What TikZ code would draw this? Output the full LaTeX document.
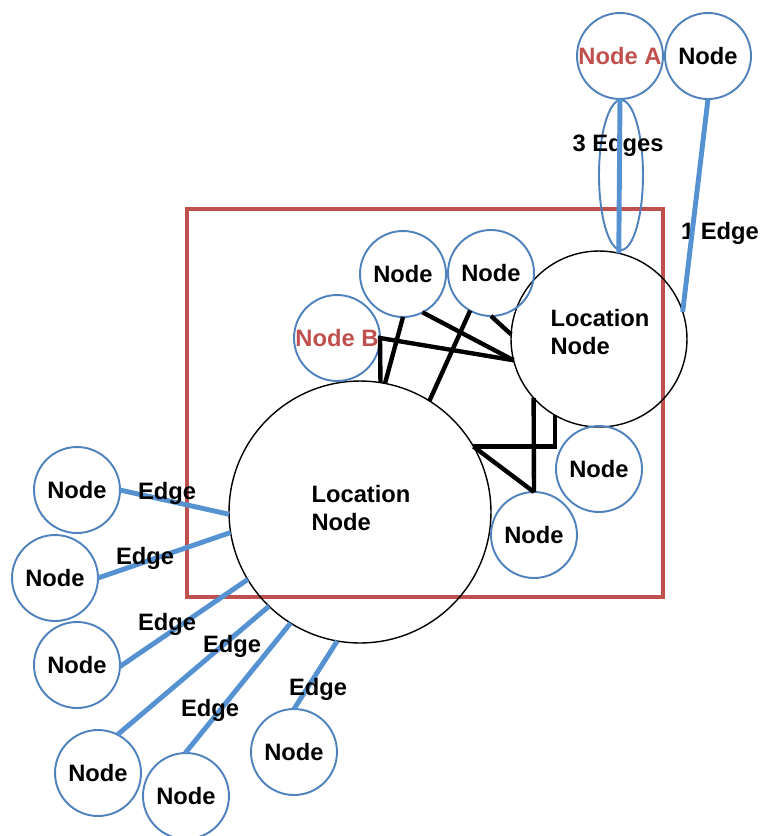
\documentclass[tikz,border=0pt]{standalone}
\usepackage{fontspec}
\setmainfont{Liberation Sans}
\usetikzlibrary{shapes.geometric}
\definecolor{nodeblue}{RGB}{79,129,189}
\definecolor{edgeblue}{RGB}{86,146,210}
\definecolor{boxred}{RGB}{192,80,77}

\begin{document}
\begin{tikzpicture}[x=0.02cm, y=-0.02cm,
  font=\fontsize{13.5}{16}\selectfont\bfseries,
  small/.style={circle, draw=nodeblue, line width=1.1pt, minimum size=1.72cm, inner sep=0pt, outer sep=0pt},
  locnode/.style={circle, draw=black, line width=0.8pt, inner sep=0pt, outer sep=0pt},
  blueedge/.style={draw=edgeblue, line width=2.8pt},
  blackedge/.style={draw=black, line width=2.5pt}]
\useasboundingbox (0,0) rectangle (760,836);

% group box
\draw[boxred, line width=2.3pt] (187,209) rectangle (663,597);

% location nodes
\node[locnode, minimum size=5.24cm] (loc1) at (360,512) {};
\node[locnode, minimum size=3.52cm] (loc2) at (599,339) {};
\node[align=left] (t1) at (361,508) {Location\\Node};
\node[align=left] (t2) at (600,332) {Location\\Node};

% top
\node[small, text=boxred] (na) at (620,56) {Node A};
\node[small] (nt) at (708,56) {Node};
\node[ellipse, draw=nodeblue, line width=1.1pt, minimum width=0.88cm, minimum height=3cm, inner sep=0pt] (grp) at (621,175) {};
\node (lab3) at (618,145) {3 Edges};
\node (lab1) at (720,233) {1 Edge};

% inside the box
\node[small] (n1) at (403,274) {Node};
\node[small] (n2) at (491,273) {Node};
\node[small, text=boxred] (nb) at (337,338) {Node B};
\node[small] (nr) at (599,469) {Node};
\node[small] (nd) at (534,535) {Node};

% outside, left
\node[small] (l1) at (77,490) {Node};
\node[small] (l2) at (55,578) {Node};
\node[small] (l3) at (77,665) {Node};
\node[small] (l4) at (98,773) {Node};
\node[small] (l5) at (186,796) {Node};
\node[small] (l6) at (294,752) {Node};

% blue edges
\draw[blueedge] (na.south) -- (loc2.77);
\draw[blueedge] (nt.south) -- (loc2.18);
\draw[blueedge] (l1.0) -- (loc1.181);
\draw[blueedge] (l2.0) -- (loc1.189);
\draw[blueedge] (l3.-2) -- (loc1.211);
\draw[blueedge] (l4.63) -- (loc1.226);
\draw[blueedge] (l5.91) -- (loc1.238);
\draw[blueedge] (l6.90) -- (loc1.260);

% black edges
\draw[blackedge] (n1.south) -- (loc1.79);
\draw[blackedge] (loc1.81) -- (nb.east) -- (loc2.194);
\draw[blackedge] (n1.297) -- (loc2.194);
\draw[blackedge] (n2.241) -- (loc1.58);
\draw[blackedge] (n2.south) -- (loc2.177);
\draw[blackedge] (loc2.222) -- (nd.north);
\draw[blackedge] (loc2.240) |- (loc1.30);
\draw[blackedge] (loc1.30) -- (nd.north);

% edge labels
\node (e1) at (167,493) {Edge};
\node (e2) at (145,558) {Edge};
\node (e3) at (167,624) {Edge};
\node (e4) at (232,646) {Edge};
\node (e5) at (210,710) {Edge};
\node (e6) at (318,689) {Edge};
\end{tikzpicture}
\end{document}
